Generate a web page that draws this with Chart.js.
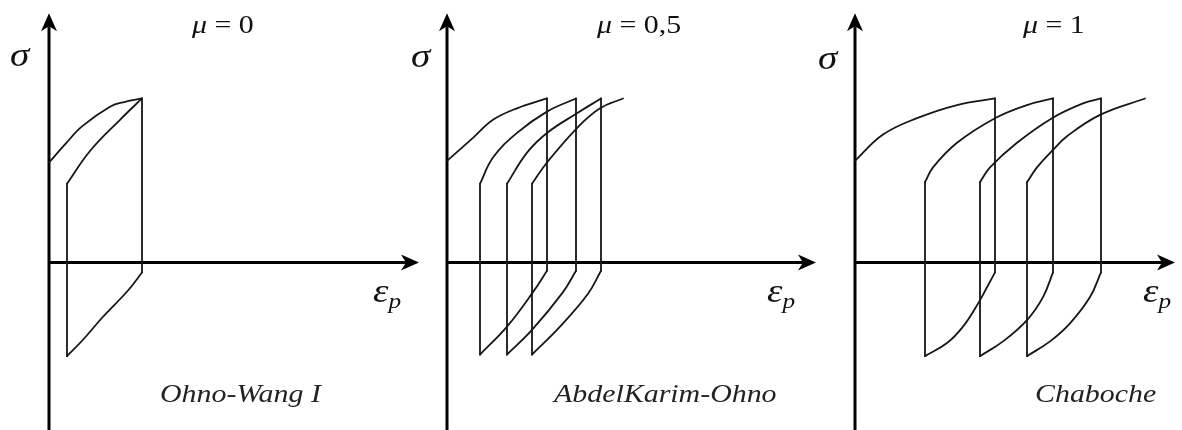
<!DOCTYPE html>
<html lang="en">
<head>
  <meta charset="UTF-8">
  <title>Ratcheting loops – μ</title>
  <script src="https://cdn.jsdelivr.net/npm/chart.js"></script>
  <style>
    html, body { margin: 0; padding: 0; background: #fff; }
    body { width: 1182px; height: 430px; position: relative; overflow: hidden; }
    canvas { position: absolute; top: 0; }
  </style>
</head>
<body>
  <canvas id="c1" width="430" height="430" style="left:0px"></canvas>
  <canvas id="c2" width="430" height="430" style="left:398px"></canvas>
  <canvas id="c3" width="376" height="430" style="left:806px"></canvas>
  <script>
    // [strain, stress] (stress: peak = 100)
    // loading branches (up) and unloading branches (down), in path order
    const ohnoWangUp = [
      [[0, 61], [0.16, 72], [0.33, 83], [0.61, 95], [0.76, 98], [0.93, 100]],
      [[0.18, 48], [0.41, 68], [0.71, 87], [0.93, 100]]
    ];
    const ohnoWangDown = [
      [[0.93, -6], [0.79, -17], [0.54, -33], [0.34, -47], [0.18, -57]]
    ];

    const abdelKarimUp = [
      [[0, 62], [0.26, 76], [0.46, 87], [0.70, 94], [1.00, 100]],
      [[0.33, 48], [0.46, 64], [0.70, 79], [1.00, 92], [1.29, 100]],
      [[0.60, 48], [0.80, 67], [1.00, 79], [1.30, 91], [1.54, 100]],
      [[0.85, 48], [1.00, 61], [1.30, 82], [1.53, 94], [1.76, 100]]
    ];
    const abdelKarimDown = [
      [[1.00, -5], [0.86, -18], [0.60, -39], [0.33, -56]],
      [[1.29, -5], [1.16, -18], [0.85, -41], [0.60, -56]],
      [[1.54, -5], [1.41, -19], [1.13, -39], [0.85, -56]]
    ];

    const chabocheUp = [
      [[0, 62], [0.28, 78], [0.62, 88], [1.02, 96], [1.40, 100]],
      [[0.70, 49], [0.78, 58], [1.02, 73], [1.40, 88], [1.72, 96], [1.98, 100]],
      [[1.25, 49], [1.35, 58], [1.62, 73], [1.97, 88], [2.28, 97], [2.46, 100]],
      [[1.72, 49], [1.82, 58], [1.97, 68], [2.12, 77], [2.45, 90], [2.90, 100]]
    ];
    const chabocheDown = [
      [[1.40, -6], [1.32, -15], [1.23, -25], [1.08, -39], [0.92, -49], [0.70, -57]],
      [[1.98, -6], [1.88, -21], [1.72, -35], [1.48, -48], [1.25, -57]],
      [[2.46, -6], [2.35, -21], [2.15, -37], [1.95, -48], [1.72, -57]]
    ];

    const muLabels = ['0', '0,5', '1'];
    const modelNames = ['Ohno-Wang I', 'AbdelKarim-Ohno', 'Chaboche'];

    const SIGMA_MIN = -102, SIGMA_MAX = 160, SIGMA_TOP = 152;
    const STRAIN_MIN = -0.49;
    const SERIF = '"Liberation Serif", "Times New Roman", serif';
    const STRETCH = 1.15;   // the original lettering is a bit wide

    // layout of each panel: text offsets are pixels from the axes origin
    const panels = [
      { id: 'c1', up: ohnoWangUp, down: ohnoWangDown, xMax: 3.81, xEnd: 3.70,
        muDx: 143, sigmaDx: -39, sigmaY: 66, epsDx: 324, modelDx: 111 },
      { id: 'c2', up: abdelKarimUp, down: abdelKarimDown, xMax: 3.81, xEnd: 3.69,
        muDx: 150, sigmaDx: -36, sigmaY: 67, epsDx: 320, modelDx: 107 },
      { id: 'c3', up: chabocheUp, down: chabocheDown, xMax: 3.27, xEnd: 3.20,
        muDx: 168, sigmaDx: -37, sigmaY: 69, epsDx: 288, modelDx: 180 }
    ];

    const toPts = arr => arr.map(p => ({ x: p[0], y: p[1] }));

    function curveSet(arr) {
      return { data: toPts(arr), tension: 0.4 };
    }
    function straightSet(a, b) {
      return { data: toPts([a, b]), tension: 0 };
    }

    function buildDatasets(up, down) {
      const sets = [];
      up.forEach((branch, i) => {
        sets.push(curveSet(branch));
        const d = down[i];
        if (!d) return;
        sets.push(straightSet(branch[branch.length - 1], d[0]));
        sets.push(curveSet(d));
        const next = up[i + 1];
        if (next) sets.push(straightSet(d[d.length - 1], next[0]));
      });
      return sets.map(s => Object.assign({
        showLine: true,
        borderColor: '#161616',
        borderWidth: 1.8,
        pointRadius: 0,
        borderCapStyle: 'round',
        borderJoinStyle: 'round',
        fill: false
      }, s));
    }

    function arrowHead(ctx, tx, ty, dx, dy) {
      const len = 18, half = 8, notch = 13;
      const px = -dy, py = dx;
      ctx.beginPath();
      ctx.moveTo(tx, ty);
      ctx.lineTo(tx - dx * len + px * half, ty - dy * len + py * half);
      ctx.lineTo(tx - dx * notch, ty - dy * notch);
      ctx.lineTo(tx - dx * len - px * half, ty - dy * len - py * half);
      ctx.closePath();
      ctx.fill();
    }

    function wideText(ctx, text, x, y, font) {
      ctx.save();
      ctx.font = font;
      ctx.translate(x, y);
      ctx.scale(STRETCH, 1);
      ctx.fillText(text, 0, 0);
      const w = ctx.measureText(text).width * STRETCH;
      ctx.restore();
      return w;
    }

    const axesPlugin = {
      id: 'axes',
      beforeDatasetsDraw(chart, args, opts) {
        const { ctx, scales: { x, y } } = chart;
        const x0 = x.getPixelForValue(0), y0 = y.getPixelForValue(0);
        const xTip = x.getPixelForValue(opts.xEnd), yTip = y.getPixelForValue(SIGMA_TOP);
        ctx.save();
        ctx.strokeStyle = '#000';
        ctx.fillStyle = '#000';
        ctx.lineWidth = 3;
        ctx.beginPath();
        ctx.moveTo(x0, chart.height);
        ctx.lineTo(x0, yTip + 12);
        ctx.moveTo(x0 - 1.5, y0);
        ctx.lineTo(xTip - 12, y0);
        ctx.stroke();
        arrowHead(ctx, x0, yTip, 0, -1);
        arrowHead(ctx, xTip, y0, 1, 0);
        ctx.restore();
      },
      afterDraw(chart, args, opts) {
        const { ctx, scales: { x } } = chart;
        const x0 = x.getPixelForValue(0);
        ctx.save();
        ctx.fillStyle = '#111';
        ctx.textBaseline = 'alphabetic';
        // μ = ...
        let cx = x0 + opts.muDx;
        cx += wideText(ctx, 'μ', cx, 33, 'italic 26px ' + SERIF);
        wideText(ctx, ' = ' + opts.mu, cx, 33, '26px ' + SERIF);
        // σ
        wideText(ctx, 'σ', x0 + opts.sigmaDx, opts.sigmaY, 'italic 34px ' + SERIF);
        // ε_p
        const ex = x0 + opts.epsDx;
        const ew = wideText(ctx, 'ε', ex, 302, 'italic 34px ' + SERIF);
        wideText(ctx, 'p', ex + ew, 308, 'italic 22px ' + SERIF);
        // model name
        ctx.fillStyle = '#222';
        wideText(ctx, opts.model, x0 + opts.modelDx, 402, 'italic 26px ' + SERIF);
        ctx.restore();
      }
    };

    panels.forEach((p, i) => {
      new Chart(document.getElementById(p.id), {
        type: 'scatter',
        data: { datasets: buildDatasets(p.up, p.down) },
        options: {
          responsive: false,
          animation: false,
          events: [],
          layout: { padding: 0 },
          plugins: {
            legend: { display: false },
            tooltip: { enabled: false },
            axes: {
              xEnd: p.xEnd, mu: muLabels[i], model: modelNames[i],
              muDx: p.muDx, sigmaDx: p.sigmaDx, sigmaY: p.sigmaY,
              epsDx: p.epsDx, modelDx: p.modelDx
            }
          },
          scales: {
            x: { type: 'linear', min: STRAIN_MIN, max: p.xMax, display: false },
            y: { type: 'linear', min: SIGMA_MIN, max: SIGMA_MAX, display: false }
          }
        },
        plugins: [axesPlugin]
      });
    });
  </script>
</body>
</html>
